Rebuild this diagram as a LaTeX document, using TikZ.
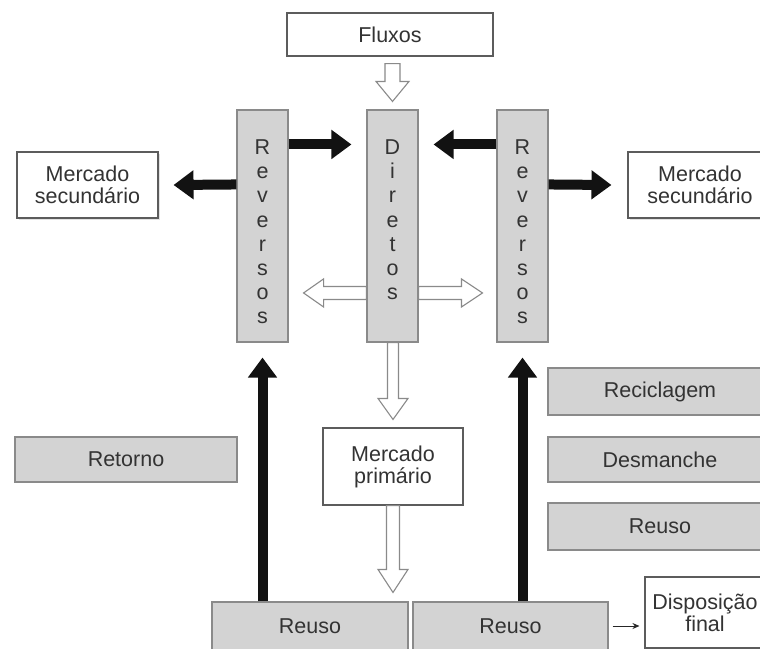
\documentclass[tikz,border=0pt]{standalone}
\usepackage{fontspec}
\setmainfont{Liberation Sans}
\usetikzlibrary{arrows.meta,calc,shadows}
\definecolor{boxgray}{HTML}{D3D3D3}
\definecolor{edgegray}{HTML}{8A8A8A}
\definecolor{txt}{HTML}{333333}
\newcommand\hollowdown[5]{%
  \draw[hollow] let \p1=(#1), \p2=(#2) in
    (\x2-#3pt,\y1) -- (\x2-#3pt,\y2+#5pt) -- (\x2-#4pt,\y2+#5pt) -- (\x2,\y2)
    -- (\x2+#4pt,\y2+#5pt) -- (\x2+#3pt,\y2+#5pt) -- (\x2+#3pt,\y1) -- cycle;}
\newcommand\hollowleft[5]{%
  \draw[hollow] let \p1=(#1), \p2=(#2) in
    (\x1,\y2+#3pt) -- (\x2+#5pt,\y2+#3pt) -- (\x2+#5pt,\y2+#4pt) -- (\x2,\y2)
    -- (\x2+#5pt,\y2-#4pt) -- (\x2+#5pt,\y2-#3pt) -- (\x1,\y2-#3pt) -- cycle;}
\newcommand\hollowright[5]{%
  \draw[hollow] let \p1=(#1), \p2=(#2) in
    (\x1,\y2+#3pt) -- (\x2-#5pt,\y2+#3pt) -- (\x2-#5pt,\y2+#4pt) -- (\x2,\y2)
    -- (\x2-#5pt,\y2-#4pt) -- (\x2-#5pt,\y2-#3pt) -- (\x1,\y2-#3pt) -- cycle;}
\begin{document}
\begin{tikzpicture}[x=1pt,y=-1pt,
  font=\fontsize{21.5}{22}\selectfont, text=txt,
  wbox/.style={draw=txt!80, fill=white, line width=1.1pt, inner sep=0pt, align=center},
  sbox/.style={wbox, drop shadow={shadow xshift=2pt, shadow yshift=-2pt, fill=black!22}},
  gbox/.style={draw=edgegray, fill=boxgray, line width=1.1pt, inner sep=0pt, align=center},
  vtext/.style={inner sep=0pt, align=center, anchor=north, font=\fontsize{21.5}{24.2}\selectfont},
  hollow/.style={draw=edgegray, fill=white, line width=1.1pt, line join=miter},
  blk/.style={line width=10pt, draw=black!93, -{Triangle[length=20pt,width=28pt]}},
  thin/.style={line width=1pt, draw=black!85, -{Stealth[length=7pt,width=6pt]}}]
\useasboundingbox (0,0) rectangle (760,648);
\fill[white] (0,0) rectangle (760,648);
\clip (0,0) rectangle (760,648);

% top
\node[wbox, minimum width=206pt, minimum height=43pt] (flux) at (390,34.5) {Fluxos};

% columns
\node[gbox, minimum width=51pt, minimum height=232pt] (revL) at (262.5,226) {};
\node[gbox, minimum width=51pt, minimum height=232pt] (dir)  at (392.5,226) {};
\node[gbox, minimum width=51pt, minimum height=232pt] (revR) at (522.5,226) {};
\node[vtext] (tL) at (262.5,139.5) {R\\e\\v\\e\\r\\s\\o\\s};
\node[vtext] (tD) at (392.5,139.5) {D\\i\\r\\e\\t\\o\\s};
\node[vtext] (tR) at (522.5,139.5) {R\\e\\v\\e\\r\\s\\o\\s};

% markets
\node[sbox, minimum width=141pt, minimum height=66pt] (msL) at (87.5,185) {Mercado\\secundário};
\node[sbox, minimum width=144pt, minimum height=66pt] (msR) at (700,185) {Mercado\\secundário};
\node[wbox, minimum width=140pt, minimum height=77pt] (mp) at (393,466.5) {Mercado\\primário};

% grey boxes
\node[gbox, minimum width=222pt, minimum height=45pt] (ret) at (126,459.5) {Retorno};
\node[gbox, minimum width=224pt, minimum height=47pt] (rec) at (660,391.5) {Reciclagem};
\node[gbox, minimum width=224pt, minimum height=45pt] (des) at (660,459.5) {Desmanche};
\node[gbox, minimum width=224pt, minimum height=47pt] (reu3) at (660,526.5) {Reuso};
\node[gbox, minimum width=196pt, minimum height=48pt] (reuL) at (310,626) {Reuso};
\node[gbox, minimum width=195pt, minimum height=48pt] (reuR) at (510.5,626) {Reuso};
\node[wbox, minimum width=120pt, minimum height=71pt] (disp) at (705,612.5) {Disposição\\final};

% hollow arrows
\hollowdown{$(flux.south)+(0,7)$}{$(dir.north)+(0,-8)$}{7.5}{16.5}{20}
\hollowdown{dir.south}{$(mp.north)+(0,-8)$}{5.5}{15}{21}
\hollowdown{mp.south}{$(reuL.north)+(83,-9)$}{6.5}{15}{23}
\hollowleft{$(dir.north west)+(0,183.5)$}{$(revL.north east)+(15,183.5)$}{6.5}{14}{20}
\hollowright{$(dir.north east)+(0,183.5)$}{$(revR.north west)+(-14,183.5)$}{6.5}{14}{21}

% black arrows
\draw[blk] ($(revL.north east)+(0,35)$) -- ($(dir.north west)+(-15,35)$);
\draw[blk] ($(revR.north west)+(0,35)$) -- ($(dir.north east)+(15,35)$);
\draw[blk] ($(revL.north west)+(0,75)$) -- ($(msL.east)+(15,0)$);
\draw[blk] ($(revR.north east)+(0,75)$) -- ($(msR.west)+(-16,0)$);
\draw[blk] (reuL.north -| revL) -- ($(revL.south)+(0,15)$);
\draw[blk] (reuR.north -| revR) -- ($(revR.south)+(0,15)$);

% thin arrow
\draw[thin, shorten <=4pt, shorten >=5pt] (reuR.east) -- (reuR.east -| disp.west);
\end{tikzpicture}
\end{document}
